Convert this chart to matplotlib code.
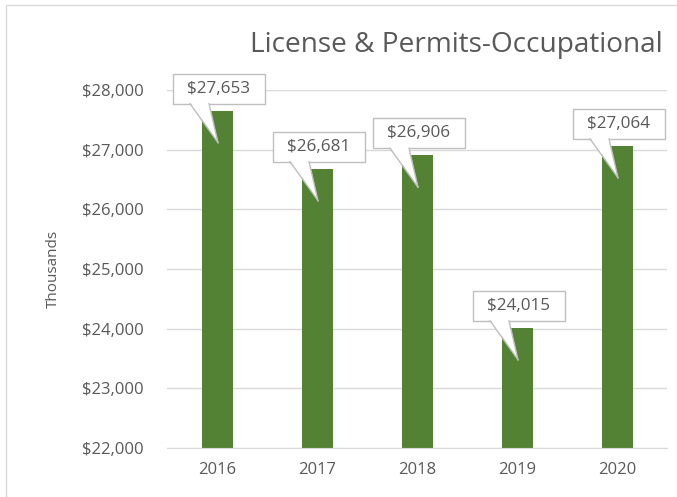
import matplotlib
matplotlib.use("Agg")
import matplotlib.pyplot as plt
from matplotlib.patches import Rectangle, Polygon
from matplotlib.lines import Line2D
from matplotlib.transforms import ScaledTranslation
from matplotlib.ticker import FuncFormatter

years = ["2016", "2017", "2018", "2019", "2020"]
values = [27653, 26681, 26906, 24015, 27064]
yticks = [22000, 23000, 24000, 25000, 26000, 27000, 28000]
title = "License & Permits-Occupational"
ylabel = "Thousands"

plt.rcParams['font.family'] = ['Open Sans', 'DejaVu Sans']
TXT = '#595959'
GRID = '#D9D9D9'

fig = plt.figure(figsize=(6.77, 4.97), dpi=100)
fig.patches.append(Rectangle((6/677, -0.2), 2, 1.2 - 5/497, transform=fig.transFigure,
                             fill=False, edgecolor='#D9D9D9', linewidth=1.0))
ax = fig.add_axes([167/677, 1-448/497, 500/677, 358/497])
xs = list(range(len(years)))
ax.bar(xs, values, width=0.31, color='#548235', zorder=2)
ax.set_xlim(-0.5, len(years) - 0.5)
ax.set_ylim(yticks[0], yticks[-1])
ax.set_yticks(yticks)
ax.yaxis.set_major_formatter(FuncFormatter(lambda v, p: f"${v:,.0f}"))
ax.set_xticks(xs)
ax.set_xticklabels(years)
ax.grid(axis='y', color=GRID, linewidth=1, zorder=0)
for s in ['top', 'right', 'left']:
    ax.spines[s].set_visible(False)
ax.spines['bottom'].set_color(GRID)
ax.tick_params(axis='both', length=0, colors=TXT, labelsize=12)
ax.tick_params(axis='y', pad=17)
ax.tick_params(axis='x', pad=10)
ax.set_ylabel(ylabel, color=TXT, fontsize=11)
ax.yaxis.set_label_coords((61 - 167) / 500, 0.5)

fig.text(456/677, 1-45/497, title, ha='center', va='center', fontsize=20.2, color=TXT)

def px(v):
    return v / 100.0

for i, v in zip(xs, values):
    t = fig.dpi_scale_trans + ScaledTranslation(i, v, ax.transData)
    box = Rectangle((px(-44), px(7)), px(92), px(30), transform=t, facecolor='white',
                    edgecolor='#BFBFBF', linewidth=1, zorder=5, clip_on=False)
    fig.add_artist(box)
    tail = Polygon([(px(-27), px(8.5)), (px(-8), px(8.5)), (px(1), px(-32))], closed=True,
                   transform=t, facecolor='white', edgecolor='none', zorder=6, clip_on=False)
    fig.add_artist(tail)
    for bx in (-27, -8):
        fig.add_artist(Line2D([px(bx), px(1)], [px(7), px(-32)], transform=t, color='#BFBFBF',
                              linewidth=1, zorder=7, clip_on=False))
    fig.text(px(2), px(22), f"${v:,.0f}", transform=t, ha='center', va='center',
             fontsize=12.3, color=TXT, zorder=8)

fig.savefig("out.png", dpi=100)
